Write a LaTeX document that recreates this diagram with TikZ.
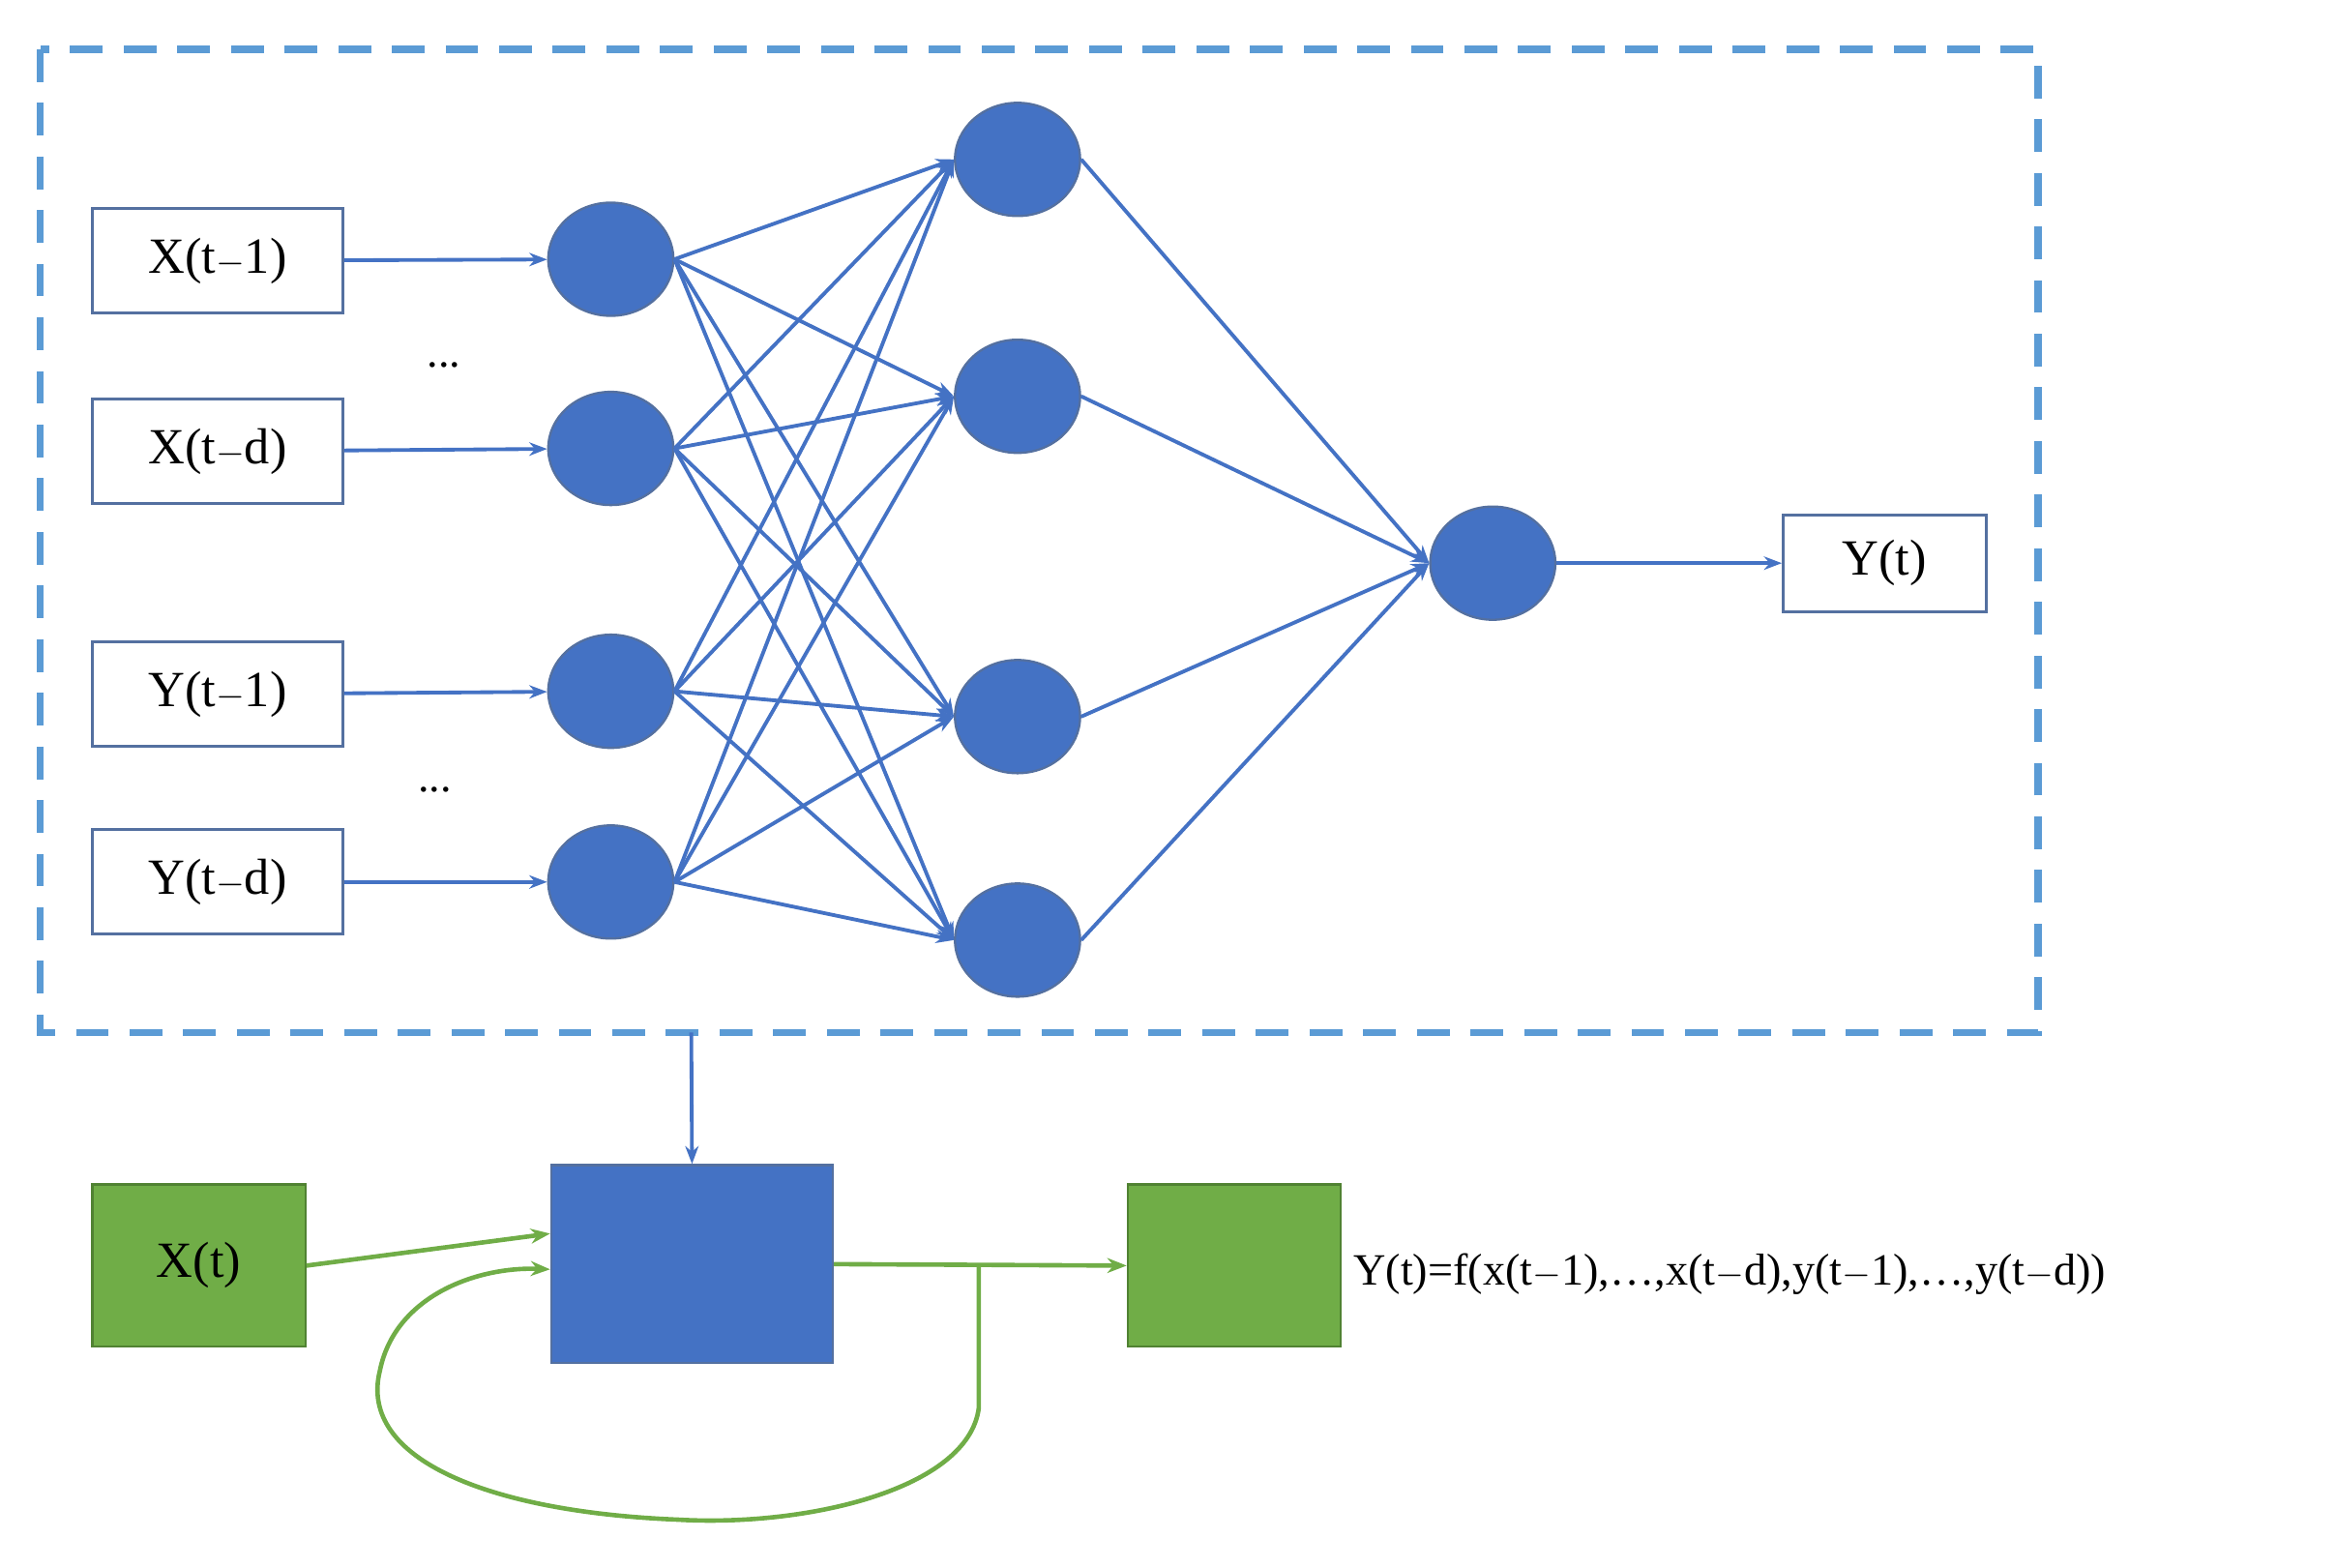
\documentclass[tikz,border=0pt]{standalone}
\usepackage{fontspec}
\setmainfont{Liberation Serif}
\usetikzlibrary{arrows.meta}
\definecolor{nb}{RGB}{68,114,196}
\definecolor{db}{RGB}{91,155,213}
\definecolor{bb}{RGB}{84,112,160}
\definecolor{gf}{RGB}{112,173,71}
\definecolor{gl}{RGB}{80,130,50}
\begin{document}
\begin{tikzpicture}[x=1pt,y=-1pt,
  inp/.style={draw=bb,line width=2pt,minimum width=168pt,minimum height=70pt,inner sep=0pt,font=\fontsize{34}{40}\selectfont},
  neu/.style={ellipse,draw=bb,line width=1.5pt,fill=nb,minimum width=84pt,minimum height=76pt,inner sep=0pt},
  ed/.style={draw=nb,line width=2.5pt,-{Stealth[length=12pt,width=9pt]}},
  gr/.style={draw=gf,line width=3pt},
  gbox/.style={draw=gl,line width=1.5pt,fill=gf,minimum width=143pt,minimum height=109pt,inner sep=0pt,font=\fontsize{34}{40}\selectfont}]
\useasboundingbox (0,0) rectangle (1568,1052);
\usetikzlibrary{shapes.geometric}
\draw[db,line width=5pt,dash pattern=on 22pt off 14pt] (27,33) rectangle (1368,693);
\node[inp] (x1) at (146,175) {X(t$-$1)};
\node[inp] (xd) at (146,303) {X(t$-$d)};
\node[inp] (y1) at (146,466) {Y(t$-$1)};
\node[inp] (yd) at (146,592) {Y(t$-$d)};
\node[font=\fontsize{30}{36}\selectfont] at (298,245) {...};
\node[font=\fontsize{30}{36}\selectfont] at (292,530) {...};
\foreach \n/\y in {a1/174,a2/301,a3/464,a4/592} \node[neu] (\n) at (410,\y) {};
\foreach \n/\y in {b1/107,b2/266,b3/481,b4/631} \node[neu] (\n) at (683,\y) {};
\node[neu] (o) at (1002,378) {};
\node[inp,minimum width=136pt,minimum height=65pt] (yt) at (1265,378) {Y(t)};
\draw[ed] (x1) -- (a1); \draw[ed] (xd) -- (a2); \draw[ed] (y1) -- (a3); \draw[ed] (yd) -- (a4);
\foreach \a in {a1,a2,a3,a4} \foreach \b in {b1,b2,b3,b4} \draw[ed] (\a.east) -- (\b.west);
\foreach \b in {b1,b2,b3,b4} \draw[ed] (\b.east) -- (o.west);
\draw[ed] (o) -- (yt);
\node[draw=bb,line width=1.5pt,fill=nb,minimum width=189pt,minimum height=133pt,inner sep=0pt] (nn) at (464.5,848.5) {};
\coordinate (bt) at (464,693);
\draw[ed] (bt) -- (nn.north);
\node[gbox] (xt) at (133.5,849.5) {X(t)};
\node[gbox] (ot) at (828.5,849.5) {};
\node[anchor=west,font=\fontsize{30}{36}\selectfont] (eq) at (905,855) {Y(t)=f(x(t$-$1),\ldots,x(t$-$d),y(t$-$1),\ldots,y(t$-$d))};
\draw[gr,-{Stealth[length=13pt,width=10pt]}] (xt.east) ++(0,0) -- (nn.west |- 0,828);
\draw[gr,-{Stealth[length=13pt,width=10pt]}] (nn.east) -- (ot.west);
\coordinate (sp) at (657,849.5);
\draw[gr,-{Stealth[length=13pt,width=10pt]}] (sp) -- (657,945) .. controls (650,1000) and (540,1025) .. (455,1020) .. controls (330,1015) and (240,980) .. (255,920) .. controls (265,870) and (320,850) .. (nn.west |- 0,852);
\end{tikzpicture}
\end{document}
